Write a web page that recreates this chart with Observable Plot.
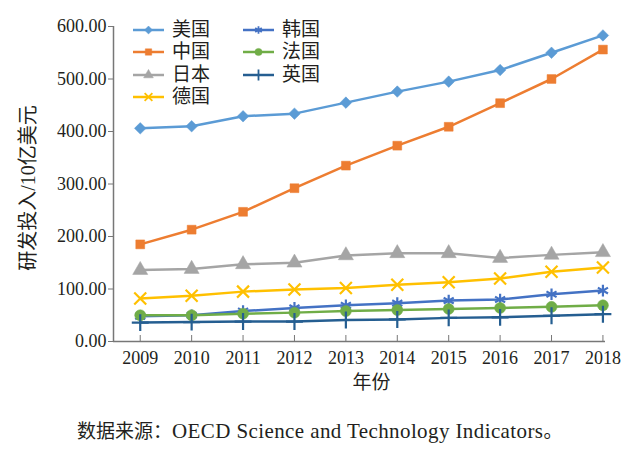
<!DOCTYPE html>
<html><head><meta charset="utf-8">
<script src="https://cdn.jsdelivr.net/npm/d3@7"></script>
<script src="https://cdn.jsdelivr.net/npm/@observablehq/plot@0.6"></script>
<style>
body{margin:0;background:#fff;}
#wrap{position:relative;width:640px;height:453px;font-family:"Liberation Serif","Noto Sans CJK SC",serif;color:#231f20;overflow:hidden;}
#chart{position:absolute;left:0;top:0;}
.leg{position:absolute;display:flex;align-items:center;font-family:"Liberation Serif","Noto Sans CJK SC",serif;font-size:19px;line-height:22px;height:22px;}
.leg svg{margin-right:8px;}
#caption{position:absolute;left:77px;top:419px;font-size:19px;line-height:24px;white-space:nowrap;font-family:"Liberation Serif","Noto Sans CJK SC",serif;}
#caption .lat{font-size:21px;letter-spacing:0.4px;}
</style></head>
<body><div id="wrap"><div id="chart"></div></div>
<script>
const years = [2009, 2010, 2011, 2012, 2013, 2014, 2015, 2016, 2017, 2018];
const countries = ["美国", "中国", "日本", "德国", "韩国", "法国", "英国"];
const usa     = [406, 410, 429, 434, 455, 476, 495, 517, 550, 583];
const china   = [185, 213, 247, 292, 335, 373, 409, 454, 500, 556];
const japan   = [136, 138, 147, 150, 164, 168, 168, 159, 165, 170];
const germany = [82, 87, 95, 99, 102, 108, 113, 120, 133, 141];
const korea   = [48, 50, 58, 64, 69, 73, 78, 80, 90, 97];
const france  = [50, 50, 53, 55, 58, 60, 62, 64, 66, 69];
const uk      = [36, 37, 38, 38, 41, 42, 45, 46, 49, 52];
const seriesValues = [usa, china, japan, germany, korea, france, uk];
const yTicks = [0, 100, 200, 300, 400, 500, 600];
const xDomain = [2008.48, 2018.05];
const yTitle = "研发投入/10亿美元";
const xTitle = "年份";
const captionParts = ["数据来源", "：", "OECD Science and Technology Indicators", "。"];

const colors = ["#5B9BD5", "#ED7D31", "#A5A5A5", "#FFC000", "#4472C4", "#70AD47", "#255E91"];
const symbols = ["diamond2", "square", "triangle", "times", "asterisk", "circle", "plus"];
const filled = [true, true, true, false, false, true, false];
const radius = [5.2, 5, 5.6, 5.5, 5.5, 5.5, 5.5];

const rows = [];
countries.forEach((c, i) => years.forEach((y, j) => rows.push({country: c, year: y, value: seriesValues[i][j]})));

const serif = "'Liberation Serif', 'Noto Sans CJK SC', serif";
const marks = [
  Plot.ruleY([0], {stroke: "#777", strokeWidth: 1.5}),
  Plot.ruleX([xDomain[0]], {stroke: "#777", strokeWidth: 1.5}),
  Plot.axisY({ticks: yTicks, tickFormat: d3.format(".2f"), tickSize: 5, tickPadding: 2, stroke: "#777", label: null, fill: "#231f20", fontFamily: serif, fontSize: 18, letterSpacing: "1.2px"}),
  Plot.axisX({ticks: years, tickFormat: d => String(d), tickSize: -6, tickPadding: 16, stroke: "#777", label: null, fill: "#231f20", fontFamily: serif, fontSize: 18, letterSpacing: "0.6px"}),
  Plot.text([yTitle], {frameAnchor: "left", textAnchor: "middle", dx: -85, dy: 4, rotate: -90, fontSize: 20, fontFamily: serif, fill: "#231f20"}),
  Plot.text([xTitle], {frameAnchor: "bottom", textAnchor: "middle", dx: 12, dy: 47, fontSize: 19, fontFamily: serif, fill: "#231f20"})
];
countries.forEach((c, i) => {
  const data = rows.filter(d => d.country === c);
  marks.push(Plot.line(data, {x: "year", y: "value", stroke: colors[i], strokeWidth: 2.5}));
  marks.push(Plot.dot(data, {
    x: "year", y: "value", symbol: () => symbols[i], r: radius[i],
    fill: filled[i] ? colors[i] : "none", stroke: colors[i], strokeWidth: filled[i] ? 0.5 : 2.2
  }));
});

const plot = Plot.plot({
  width: 640, height: 405,
  marginLeft: 113, marginRight: 35, marginTop: 26, marginBottom: 64,
  x: {type: "linear", domain: xDomain},
  y: {domain: [0, 600]},
  symbol: {type: "identity"},
  style: {fontSize: "18px", fontFamily: serif, color: "#231f20", background: "#fff"},
  marks
});
document.getElementById("chart").appendChild(plot);

// legend overlay
const wrap = document.getElementById("wrap");
const legPos = [[133, 19], [133, 41.3], [133, 63.6], [133, 85.9], [243, 19], [243, 41.3], [243, 63.6]];
const symMap = {diamond2: d3.symbolDiamond2, square: d3.symbolSquare, triangle: d3.symbolTriangle, times: d3.symbolTimes, asterisk: d3.symbolAsterisk, circle: d3.symbolCircle, plus: d3.symbolPlus};
countries.forEach((c, i) => {
  const div = document.createElement("div");
  div.className = "leg";
  div.style.left = legPos[i][0] + "px";
  div.style.top = legPos[i][1] + "px";
  const svg = d3.create("svg").attr("width", 31).attr("height", 14);
  svg.append("line").attr("x1", 0).attr("x2", 31).attr("y1", 7).attr("y2", 7).attr("stroke", colors[i]).attr("stroke-width", 2.5);
  svg.append("path").attr("transform", "translate(15.5,7)")
    .attr("d", d3.symbol(symMap[symbols[i]], 3.6 * 3.6 * Math.PI)())
    .attr("fill", filled[i] ? colors[i] : "none").attr("stroke", colors[i]).attr("stroke-width", filled[i] ? 0.5 : 1.8);
  div.appendChild(svg.node());
  const span = document.createElement("span");
  span.textContent = c;
  div.appendChild(span);
  wrap.appendChild(div);
});
const cap = document.createElement("div");
cap.id = "caption";
const classes = ["", "", "lat", ""];
captionParts.forEach((t, i) => {
  const s = document.createElement("span");
  if (classes[i]) s.className = classes[i];
  s.textContent = t;
  cap.appendChild(s);
});
wrap.appendChild(cap);
</script>
</body></html>
